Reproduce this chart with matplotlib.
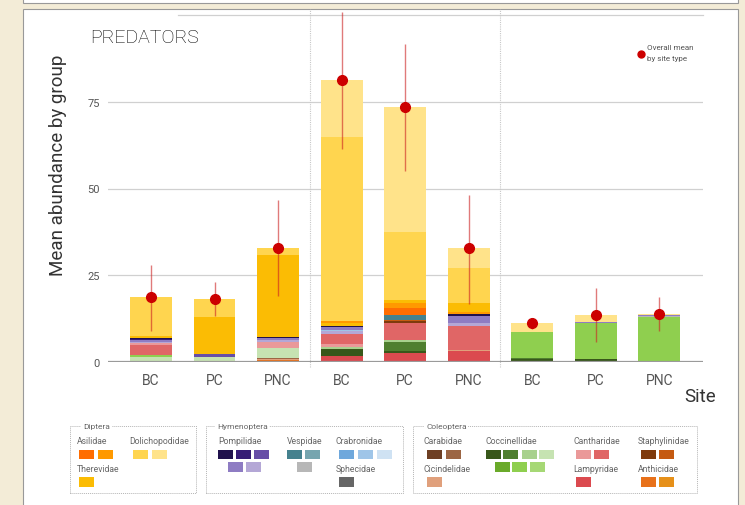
import matplotlib
matplotlib.use("Agg")
import matplotlib.pyplot as plt
from matplotlib.patches import Rectangle
import matplotlib.transforms as mtransforms

W, H = 745, 506

# ---------------- data ----------------
sites = ["BC", "PC", "PNC", "BC", "PC", "PNC", "BC", "PC", "PNC"]

palette = {
    "Asil1": "#ff6d01", "Asil2": "#ff9900",
    "Doli1": "#ffd54f", "Doli2": "#ffe38a",
    "Ther": "#fbbc04",
    "Pomp1": "#20124d", "Pomp2": "#351c75", "Pomp3": "#674ea7", "Pomp4": "#8e7cc3", "Pomp5": "#b4a7d6",
    "Vesp1": "#45818e", "Vesp2": "#76a5af", "Vesp3": "#b7b7b7",
    "Crab1": "#6fa8dc", "Crab2": "#9fc5e8", "Crab3": "#cfe2f3",
    "Sphe": "#666666",
    "Cara1": "#6e3f24", "Cara2": "#9c6644",
    "Cici": "#e0a07c",
    "Cocc1": "#38571a", "Cocc2": "#4f7f2f", "Cocc3": "#a8d18d", "Cocc4": "#c6e3b2",
    "Cocc5": "#6aaa2a", "Cocc6": "#8fcf4f", "Cocc7": "#a6d875",
    "Cant1": "#ea9999", "Cant2": "#e06666",
    "Lamp": "#db4a4f",
    "Stap1": "#7f3a0c", "Stap2": "#c55a11",
    "Anth1": "#e8711a", "Anth2": "#e69019",
}

# stacked segments, bottom to top (taxon key, mean abundance)
stack_BC_1 = [("Cocc4", 1.4), ("Cocc6", 0.6), ("Cant2", 3.0), ("Cant1", 0.4), ("Pomp5", 0.3),
              ("Pomp4", 0.5), ("Pomp2", 0.4), ("Pomp1", 0.3), ("Ther", 0.7), ("Doli1", 11.0)]
stack_PC_1 = [("Cocc3", 0.4), ("Cocc4", 0.9), ("Pomp5", 0.2), ("Pomp3", 0.8), ("Ther", 10.8), ("Doli1", 5.1)]
stack_PNC_1 = [("Stap1", 0.2), ("Anth1", 0.3), ("Cici", 0.3), ("Cara2", 0.3), ("Cocc4", 2.9), ("Cant1", 1.9),
               ("Pomp5", 0.5), ("Pomp4", 0.5), ("Pomp1", 0.4), ("Ther", 23.4), ("Doli1", 2.2)]
stack_BC_2 = [("Lamp", 1.8), ("Cocc1", 1.9), ("Cocc3", 0.7), ("Cant1", 0.8), ("Cant2", 3.0), ("Pomp5", 0.6),
              ("Crab2", 0.5), ("Pomp4", 0.7), ("Pomp1", 0.4), ("Ther", 0.8), ("Asil2", 0.5),
              ("Doli1", 53.0), ("Doli2", 16.5)]
stack_PC_2 = [("Lamp", 2.7), ("Cocc1", 0.5), ("Cocc2", 2.6), ("Cocc3", 0.4), ("Cant2", 5.0), ("Stap1", 0.6),
              ("Stap2", 0.4), ("Vesp1", 1.4), ("Asil1", 2.0), ("Asil2", 1.4), ("Ther", 1.0),
              ("Doli1", 19.5), ("Doli2", 36.0)]
stack_PNC_2 = [("Lamp", 3.3), ("Cici", 0.2), ("Cant2", 7.0), ("Pomp5", 0.7), ("Pomp4", 2.2), ("Pomp1", 0.5),
               ("Asil2", 0.4), ("Ther", 2.6), ("Doli1", 10.2), ("Doli2", 5.7)]
stack_BC_3 = [("Cocc1", 0.8), ("Cocc2", 0.4), ("Cocc6", 7.4), ("Doli2", 2.5)]
stack_PC_3 = [("Cara1", 0.2), ("Cocc1", 0.7), ("Cocc6", 10.4), ("Pomp4", 0.3), ("Doli2", 2.0)]
stack_PNC_3 = [("Cocc1", 0.4), ("Cocc6", 12.7), ("Vesp3", 0.2), ("Pomp4", 0.2), ("Doli2", 0.4)]

stacks = [stack_BC_1, stack_PC_1, stack_PNC_1, stack_BC_2, stack_PC_2, stack_PNC_2,
          stack_BC_3, stack_PC_3, stack_PNC_3]

overall_mean = [18.7, 18.2, 32.9, 81.3, 73.5, 32.9, 11.2, 13.6, 13.9]
err_low = [9.0, 13.2, 18.9, 61.4, 55.1, 16.7, 9.5, 5.7, 8.8]
err_high = [28.0, 23.1, 46.7, 101.0, 91.6, 48.1, 12.4, 21.3, 18.6]

yticks = [0, 25, 50, 75]

# legend content
legend_groups = ["Diptera", "Hymenoptera", "Coleoptera"]
legend_families = [
    ("Asilidae", ["Asil1", "Asil2"]),
    ("Dolichopodidae", ["Doli1", "Doli2"]),
    ("Therevidae", ["Ther"]),
    ("Pompilidae", ["Pomp1", "Pomp2", "Pomp3", "Pomp4", "Pomp5"]),
    ("Vespidae", ["Vesp1", "Vesp2", "Vesp3"]),
    ("Crabronidae", ["Crab1", "Crab2", "Crab3"]),
    ("Sphecidae", ["Sphe"]),
    ("Carabidae", ["Cara1", "Cara2"]),
    ("Cicindelidae", ["Cici"]),
    ("Coccinellidae", ["Cocc1", "Cocc2", "Cocc3", "Cocc4", "Cocc5", "Cocc6", "Cocc7"]),
    ("Cantharidae", ["Cant1", "Cant2"]),
    ("Lampyridae", ["Lamp"]),
    ("Staphylinidae", ["Stap1", "Stap2"]),
    ("Anthicidae", ["Anth1", "Anth2"]),
]

# ---------------- layout helpers ----------------
FONT = ["Roboto", "DejaVu Sans"]
plt.rcParams["font.family"] = FONT

fig = plt.figure(figsize=(W / 100, H / 100), dpi=100)
fig.patch.set_facecolor("#f3ecd7")


def fx(x):
    return x / W


def fy(y):
    return 1 - y / H


def frect(x0, y0, x1, y1, **kw):
    r = Rectangle((fx(x0), fy(y1)), fx(x1) - fx(x0), fy(y0) - fy(y1),
                  transform=fig.transFigure, **kw)
    fig.add_artist(r)
    return r


# panels
frect(23, -2, 738, 4, facecolor="white", edgecolor="#999999", lw=0.8, zorder=0)
frect(23, 10, 738, 510, facecolor="white", edgecolor="#999999", lw=0.8, zorder=0)

# ---------------- axes ----------------
ax_l, ax_r, ax_b, ax_t = 108, 703, 363, 16
ax = fig.add_axes([fx(ax_l), fy(ax_b), fx(ax_r) - fx(ax_l), fy(ax_t) - fy(ax_b)])
ax.set_facecolor("none")
xmin, xmax = -0.677, 8.69
ax.set_xlim(xmin, xmax)
ax.set_ylim(0, 100)
for s in ax.spines.values():
    s.set_visible(False)

xs = list(range(len(sites)))
bw = 0.66
for x, stack in zip(xs, stacks):
    bottom = 0.0
    for key, val in stack:
        ax.bar(x, val, width=bw, bottom=bottom, color=palette[key], linewidth=0, zorder=2)
        bottom += val

# gridlines
for yv in yticks[1:]:
    ax.axhline(yv, color="#d0d0d0", lw=0.9, zorder=0)
ax.plot([(178 - ax_l) / (ax_r - ax_l), 1], [100, 100], color="#d0d0d0", lw=0.9,
        transform=mtransforms.blended_transform_factory(ax.transAxes, ax.transData),
        clip_on=False, zorder=0)
ax.axhline(0, color="#9a9a9a", lw=1.6, zorder=3)

# group separators
bt = mtransforms.blended_transform_factory(ax.transData, ax.transAxes)
for sx in [2.5, 5.5]:
    ax.plot([sx, sx], [-0.015, (ax_b - 10) / (ax_b - ax_t)], transform=bt, color="#c8c8c8",
            lw=0.8, ls=(0, (1, 1)), clip_on=False, zorder=1)

# error bars & means
ax.vlines(xs, err_low, err_high, color="#cc2222", alpha=0.6, lw=1.0, zorder=4, clip_on=False)
ax.plot(xs, overall_mean, "o", color="#cc0000", ms=7, mec="#cc0000", zorder=5, clip_on=False)

# ticks
ax.set_xticks(xs)
ax.set_xticklabels(sites, fontsize=10, color="#555555")
ax.tick_params(axis="x", length=0, pad=8)
ax.set_yticks(yticks)
ax.set_yticklabels([str(v) for v in yticks], fontsize=8, color="#555555")
ax.tick_params(axis="y", length=0, pad=6)

# titles
fig.text(fx(90), fy(38), "PREDATORS", fontsize=14, fontweight="light", color="#000000",
         va="center", ha="left")
fig.text(fx(58), fy(165), "Mean abundance by group", rotation=90, fontsize=13.5,
         color="#333333", va="center", ha="center")
fig.text(fx(700), fy(397), "Site", fontsize=13.5, color="#333333", va="center", ha="center")

# overall mean legend
fig.add_artist(plt.Line2D([fx(641)], [fy(55)], marker="o", color="#cc0000", ms=5,
                          transform=fig.transFigure))
fig.text(fx(647), fy(48), "Overall mean", fontsize=5.8, color="#555555", va="center", ha="left")
fig.text(fx(647), fy(59), "by site type", fontsize=5.8, color="#555555", va="center", ha="left")

# ---------------- bottom legend ----------------
box_px = [(70, 196, 83), (206, 403, 217), (413, 697, 426)]
for name, (bx0, bx1, tx) in zip(legend_groups, box_px):
    frect(bx0, 427, bx1, 494, facecolor="none", edgecolor="#b5b5b5", lw=0.7, ls=(0, (1, 1)))
    fig.text(fx(tx), fy(427), name, fontsize=6, color="#666666", va="center", ha="left",
             bbox=dict(boxstyle="square,pad=0.2", fc="white", ec="none"))

fam_layout = {
    # label position, swatch (x, y_top) list
    "Asilidae": ((77, 441.5), [(79.3, 450.5), (98, 450.5)]),
    "Dolichopodidae": ((129, 441.5), [(133, 450.5), (152, 450.5)]),
    "Therevidae": ((77, 470), [(79.3, 478.3)]),
    "Pompilidae": ((218, 441.5), [(217.7, 450.5), (236, 450.5), (254.3, 450.5), (227.7, 463.3), (246, 463.3)]),
    "Vespidae": ((286.5, 441.5), [(286.7, 450.5), (305, 450.5), (296.7, 463.3)]),
    "Crabronidae": ((336, 441.5), [(339.3, 450.5), (358.3, 450.5), (376.7, 450.5)]),
    "Sphecidae": ((336, 470), [(339.3, 478.3)]),
    "Carabidae": ((424, 441.5), [(427.3, 450.5), (445.7, 450.5)]),
    "Cicindelidae": ((424, 470), [(427.3, 478.3)]),
    "Coccinellidae": ((486, 441.5), [(485.7, 450.5), (503.3, 450.5), (521.7, 450.5), (539.3, 450.5),
                                     (495, 463.3), (512.3, 463.3), (530, 463.3)]),
    "Cantharidae": ((573.3, 441.5), [(576, 450.5), (594.3, 450.5)]),
    "Lampyridae": ((573.3, 470), [(576, 478.3)]),
    "Staphylinidae": ((637.7, 441.5), [(640.7, 450.5), (659, 450.5)]),
    "Anthicidae": ((637.7, 470), [(640.7, 478.3), (659, 478.3)]),
}
for fam, keys in legend_families:
    (lx, ly), sw = fam_layout[fam]
    fig.text(fx(lx), fy(ly), fam, fontsize=6.2, color="#666666", va="center", ha="left")
    for key, (sx, sy) in zip(keys, sw):
        frect(sx, sy, sx + 15, sy + 9.5, facecolor=palette[key], edgecolor="none")

fig.savefig("out.png", dpi=100, facecolor=fig.get_facecolor())
